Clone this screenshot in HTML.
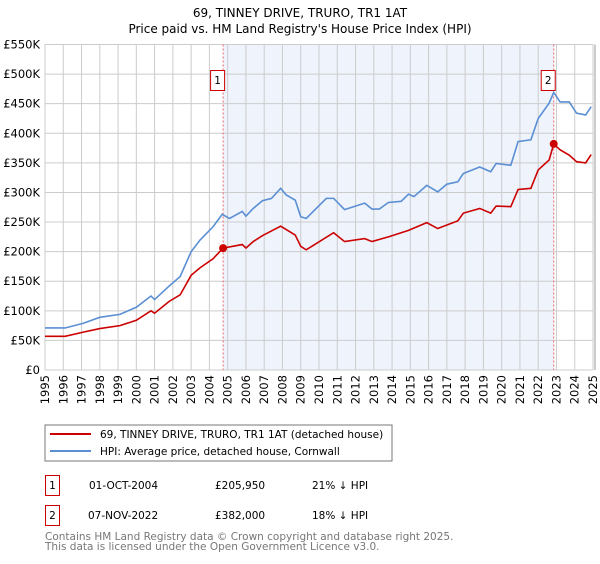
<!DOCTYPE html>
<html><head><meta charset="utf-8"><style>
body{margin:0;background:#fff;font-family:"DejaVu Sans","Liberation Sans",sans-serif}
svg text{font-family:"DejaVu Sans","Liberation Sans",sans-serif}
</style></head><body>
<svg id="c" width="600" height="560" xmlns="http://www.w3.org/2000/svg">
<text x="300" y="17" text-anchor="middle" font-size="12">69, TINNEY DRIVE, TRURO, TR1 1AT</text>
<text x="300" y="33" text-anchor="middle" font-size="12">Price paid vs. HM Land Registry's House Price Index (HPI)</text>
<g id="plot"></g>
<rect x="45" y="425" width="347" height="36" fill="#fff" stroke="#777"/>
<line x1="50" y1="434" x2="91" y2="434" stroke="#cc0000" stroke-width="2"/>
<text x="100" y="438" font-size="10.5">69, TINNEY DRIVE, TRURO, TR1 1AT (detached house)</text>
<line x1="50" y1="451" x2="91" y2="451" stroke="#5b8fd4" stroke-width="2"/>
<text x="100" y="455" font-size="10.5">HPI: Average price, detached house, Cornwall</text>
<g>
<rect x="45.5" y="475.5" width="14" height="20" fill="#fff" stroke="#cc0000"/>
<text x="52.5" y="489" text-anchor="middle" font-size="10.5">1</text>
<text x="89" y="489" font-size="10.5">01-OCT-2004</text>
<text x="215" y="489" font-size="10.5">£205,950</text>
<text x="312" y="489" font-size="10.5">21% ↓ HPI</text></g>
<g>
<rect x="45.5" y="505.5" width="14" height="20" fill="#fff" stroke="#cc0000"/>
<text x="52.5" y="519" text-anchor="middle" font-size="10.5">2</text>
<text x="88" y="519" font-size="10.5">07-NOV-2022</text>
<text x="215" y="519" font-size="10.5">£382,000</text>
<text x="312" y="519" font-size="10.5">18% ↓ HPI</text></g>
<text x="45" y="540" font-size="10.5" fill="#777">Contains HM Land Registry data © Crown copyright and database right 2025.</text>
<text x="45" y="550" font-size="10.5" fill="#777">This data is licensed under the Open Government Licence v3.0.</text>
</svg>
<script>
const hpiYears=[1995,1996.1,1997.1,1998,1999.1,2000,2000.8,2001,2001.8,2002.4,2003,2003.5,2004.2,2004.7,2005.1,2005.8,2006,2006.4,2006.9,2007.4,2007.9,2008.2,2008.7,2009,2009.3,2010.4,2010.8,2011.4,2012.5,2012.9,2013.3,2013.8,2014.5,2014.9,2015.2,2015.9,2016.5,2017,2017.6,2017.9,2018.8,2019.4,2019.7,2020.5,2020.9,2021.6,2022,2022.6,2022.85,2023.2,2023.7,2024.1,2024.6,2024.9];
const hpiValues=[71,71,79,89,94,106,125,119,142,158,200,220,242,263,256,268,260,273,286,290,307,296,287,259,256,290,290,271,282,272,272,283,285,297,293,312,301,314,318,332,343,335,349,346,386,389,425,451,469,453,453,434,431,445];
const redYears=[1995,1996.1,1997.1,1998,1999.1,2000,2000.8,2001,2001.8,2002.4,2003,2003.5,2004.2,2004.75,2005.8,2006,2006.4,2006.9,2007.9,2008.7,2009,2009.3,2010.8,2011.4,2012.5,2012.9,2013.8,2014.9,2015.9,2016.5,2017.6,2017.9,2018.8,2019.4,2019.7,2020.5,2020.9,2021.6,2022,2022.6,2022.85,2023.2,2023.7,2024.1,2024.6,2024.9];
const redValues=[57,57,64,70,75,84,100,96,116,127,160,173,188,206,212,206,217,227,243,228,209,203,232,217,222,217,225,236,249,239,252,265,273,265,277,276,305,307,338,355,382,372,363,352,350,364];
const yTicks=[0,50,100,150,200,250,300,350,400,450,500,550];
const yTickLabels=["£0","£50K","£100K","£150K","£200K","£250K","£300K","£350K","£400K","£450K","£500K","£550K"];
const xTicks=[1995,1996,1997,1998,1999,2000,2001,2002,2003,2004,2005,2006,2007,2008,2009,2010,2011,2012,2013,2014,2015,2016,2017,2018,2019,2020,2021,2022,2023,2024,2025];
const sales=[[2004.75,205.95,"1"],[2022.85,382,"2"]];
const NS="http://www.w3.org/2000/svg";
const X=y=>45+(y-1995)*(548/30), Y=v=>370-v*(325.5/550);
const g=document.getElementById('plot');
function mk(t,a,p){const e=document.createElementNS(NS,t);for(const k in a)e.setAttribute(k,a[k]);(p||g).appendChild(e);return e;}
let e=mk('rect',{x:X(2004.75),y:Y(550),width:X(2022.85)-X(2004.75),height:Y(0)-Y(550),fill:'#eef3fc'});


xTicks.forEach(t=>{let l=mk('line',{x1:X(t),x2:X(t),y1:Y(550),y2:Y(0),stroke:'#cccccc'});


let tx=mk('text',{x:0,y:0,'font-size':11.5,'text-anchor':'end',transform:`translate(${X(t)+4},375) rotate(-90)`});tx.textContent=t;

});
yTicks.forEach((t,i)=>{let l=mk('line',{x1:45,x2:X(2025),y1:Y(t),y2:Y(t),stroke:'#cccccc'});


let tx=mk('text',{x:40,y:Y(t)+4,'font-size':11.5,'text-anchor':'end'});tx.textContent=yTickLabels[i];

});
let ax=mk('line',{x1:X(2025)+2,x2:X(2025)+2,y1:Y(550),y2:Y(0),stroke:'#999'});


sales.forEach(s=>{let l=mk('line',{x1:X(s[0]),x2:X(s[0]),y1:Y(550),y2:Y(0),stroke:'#ee6666','stroke-dasharray':'2,2'});

});
function line(xs,vs,c,n){let p=mk('polyline',{points:xs.map((x,i)=>X(x)+','+Y(vs[i])).join(' '),fill:'none',stroke:c,'stroke-width':1.6});

}
line(hpiYears,hpiValues,'#5b8fd4','hpi-line');
line(redYears,redValues,'#cc0000','property-line');
sales.forEach(s=>{let c=mk('circle',{cx:X(s[0]),cy:Y(s[1]),r:4,fill:'#cc0000'});


let r=mk('rect',{x:X(s[0])-12.5,y:70.5,width:14,height:20,fill:'#fff',stroke:'#cc0000'});


let t=mk('text',{x:X(s[0])-5.5,y:84,'font-size':10.5,'text-anchor':'middle'});t.textContent=s[2];

});
</script>
</body></html>
